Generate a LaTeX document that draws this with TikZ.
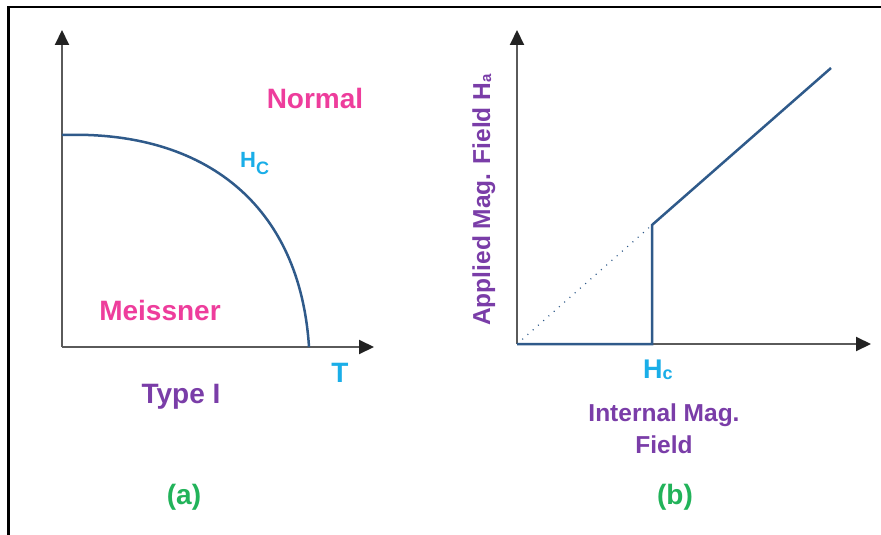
\documentclass[tikz,border=0pt]{standalone}
\usepackage{fontspec}
\setmainfont{Liberation Sans}
\usetikzlibrary{arrows.meta}
\definecolor{pinkT}{HTML}{EE3D9C}
\definecolor{cyanT}{HTML}{1AAEE8}
\definecolor{purpleT}{HTML}{7A3DA8}
\definecolor{greenT}{HTML}{22B35A}
\definecolor{curveB}{HTML}{2F5A8A}
\definecolor{axisG}{HTML}{5A5A5A}
\definecolor{tipG}{HTML}{222222}
\begin{document}
\begin{tikzpicture}[x=1pt,y=-1pt,
  axis/.style={draw=axisG, line width=2pt, -{Triangle[length=15pt,width=14pt,color=tipG]}},
  curve/.style={draw=curveB, line width=2.5pt, line join=miter},
  big/.style={inner sep=0pt, anchor=base, font=\bfseries\fontsize{28}{30}\selectfont},
  mid/.style={inner sep=0pt, anchor=base, font=\bfseries\fontsize{24.5}{26}\selectfont},
  frame/.style={draw=black, line width=2.5pt}]
\useasboundingbox (0,0) rectangle (881,535);
\fill[white] (0,0) rectangle (881,535);
\draw[frame] (8.5,535) -- (8.5,7) -- (881,7);

% ---- panel (a)
\coordinate (oa) at (62,347);
\coordinate (ya) at (62,30);
\coordinate (xa) at (374,347);
\coordinate (ca) at (62,135);
\coordinate (cb) at (309,347);
\draw[axis] (oa) -- (ya);
\draw[axis] (oa) -- (xa);
\draw[curve] (ca) .. controls (205,130) and (300,205) .. (cb);
\node[big, text=pinkT] (normal) at (315,108) {Normal};
\node[inner sep=0pt, anchor=base west, text=cyanT, font=\bfseries\fontsize{22}{24}\selectfont] (hca) at (240,167)
  {H\raisebox{-7pt}{\fontsize{18}{20}\selectfont C}};
\node[big, text=pinkT] (meissner) at (160,320) {Meissner};
\node[big, text=cyanT] (T) at (340,382) {T};
\node[big, text=purpleT] (type) at (181,403) {Type I};
\node[big, text=greenT] (a) at (184,504) {(a)};

% ---- panel (b)
\coordinate (ob) at (517,344);
\coordinate (yb) at (517,30);
\coordinate (xb) at (871,344);
\coordinate (hcb) at (652,344);
\coordinate (jb) at (652,225);
\coordinate (eb) at (831,68);
\draw[axis] (ob) -- (yb);
\draw[axis] (ob) -- (xb);
\draw[curveB, line width=1.2pt, dash pattern=on 1pt off 6pt] (ob) -- (jb);
\draw[curve] (ob) -- (hcb) -- (jb) -- (eb);
\node[inner sep=0pt, anchor=base west, text=cyanT, font=\bfseries\fontsize{27}{29}\selectfont] (hcl) at (643,378)
  {H\raisebox{-1pt}{\fontsize{18}{20}\selectfont c}};
\node[mid, text=purpleT, rotate=90] (applied) at (490,200)
  {Applied Mag. Field H\raisebox{-1pt}{\fontsize{15}{16}\selectfont a}};
\node[mid, text=purpleT] (internal) at (664,421) {Internal Mag.};
\node[mid, text=purpleT] (field) at (664,453) {Field};
\node[big, text=greenT] (b) at (675,504) {(b)};
\end{tikzpicture}
\end{document}
